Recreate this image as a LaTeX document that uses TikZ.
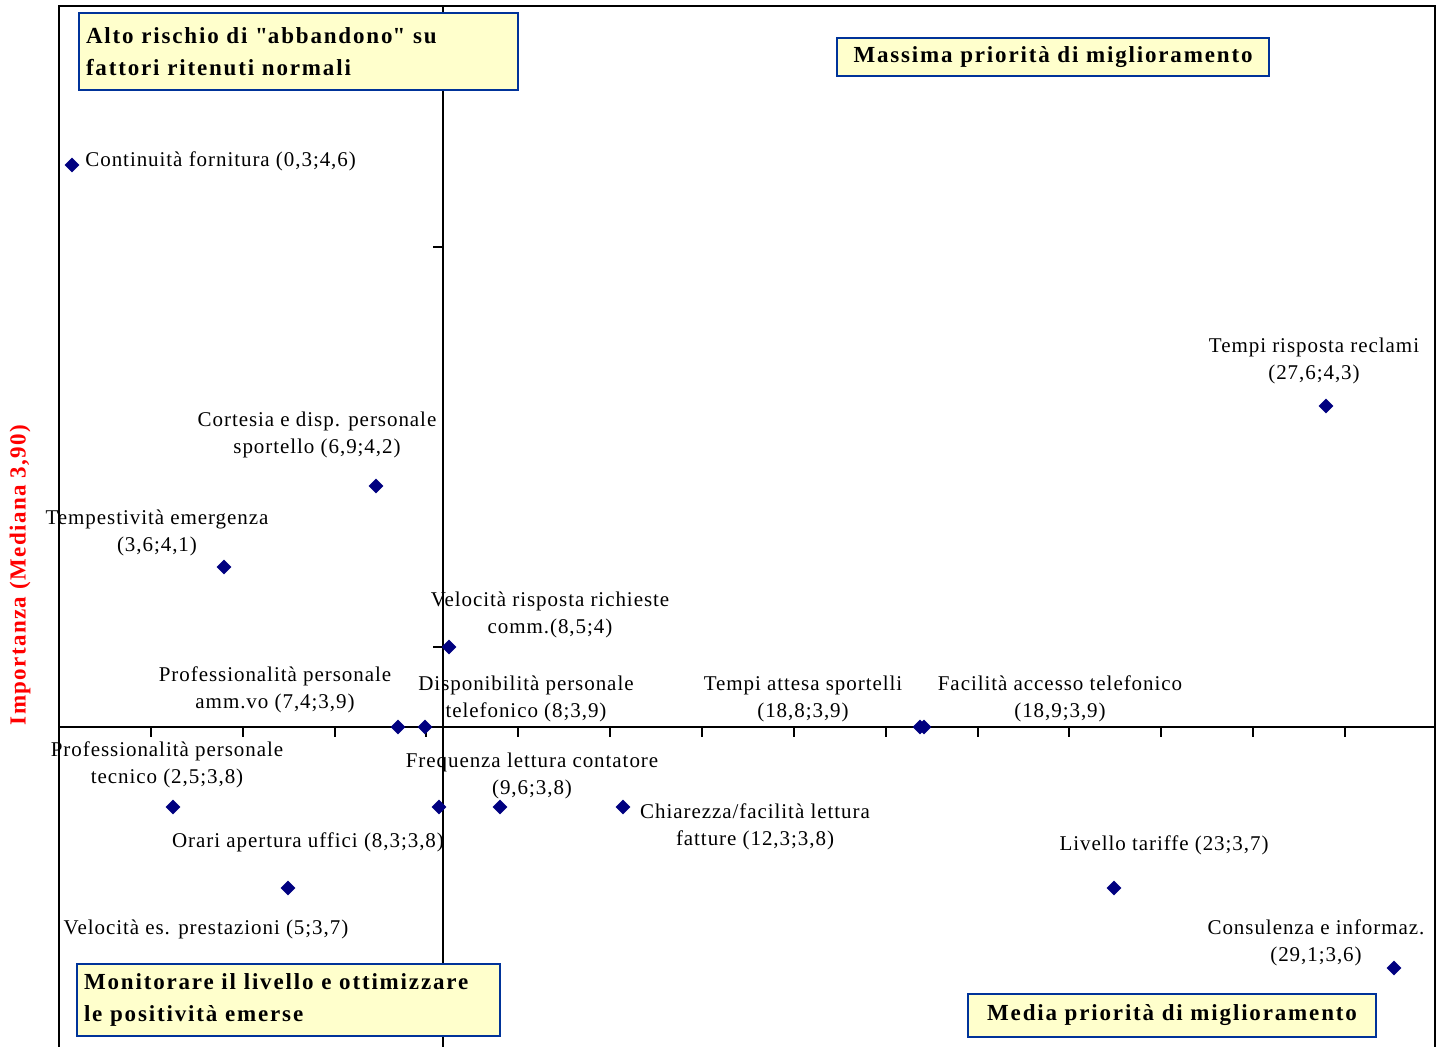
\documentclass[tikz,border=0pt]{standalone}
\usepackage{fontspec}
\setmainfont{Liberation Serif}
\newfontfamily\lblfont[LetterSpace=4.5]{Liberation Serif}
\newfontfamily\qboxfont[LetterSpace=8]{Liberation Serif}
\newfontfamily\ylabfont[LetterSpace=6]{Liberation Serif}
\usetikzlibrary{shapes.geometric}
\definecolor{navy}{RGB}{0,0,128}
\definecolor{boxfill}{RGB}{255,255,204}
\definecolor{boxline}{RGB}{0,51,153}
\begin{document}
\begin{tikzpicture}[x=0.5pt,y=-0.5pt,
  pt/.style={diamond,fill=navy,inner sep=0pt,minimum width=7.5pt,minimum height=7.5pt},
  lbl/.style={font=\lblfont\fontsize{10.5}{13.5}\selectfont,align=center,inner sep=0pt},
  qbox/.style={draw=boxline,line width=1pt,fill=boxfill,font=\qboxfont\bfseries\fontsize{11.5}{16}\selectfont,inner sep=0pt,anchor=north west},
  axisline/.style={line width=1pt,black}]
\useasboundingbox (0,0) rectangle (1441,1047);
% frame
\draw[axisline] (59,1047) -- (59,6) -- (1435,6) -- (1435,1047);
% axes
\draw[axisline] (443,6) -- (443,1047);
\draw[axisline] (59,727) -- (1435,727);
\foreach \i in {2,4,...,28} \draw[axisline] ({59+45.93*\i},727) -- ++(0,10);
\foreach \y in {247,647} \draw[axisline] (443,\y) -- ++(-10,0);
% y label
\node[rotate=90,font=\ylabfont\bfseries\fontsize{11.5}{13}\selectfont,text=red,inner sep=0pt] (ylab) at (20,575) {Importanza (Mediana 3,90)};
% quadrant boxes
\node[qbox,minimum width=219.5pt,minimum height=38.5pt,text width=212.5pt,align=left,inner xsep=3.5pt] (q1) at (78,12) {Alto rischio di \textquotedbl abbandono\textquotedbl\ su\\fattori ritenuti normali};
\node[qbox,minimum width=216pt,minimum height=19pt,align=center] (q2) at (836,37) {Massima priorità di miglioramento};
\node[qbox,minimum width=211.5pt,minimum height=36pt,text width=204.5pt,align=left,inner xsep=3.5pt] (q3) at (76,963) {Monitorare il livello e ottimizzare\\le positività emerse};
\node[qbox,minimum width=204pt,minimum height=21.5pt,align=center] (q4) at (967,993) {Media priorità di miglioramento};
% points
\node[pt] (p1) at (72,165) {};
\node[pt] (p2) at (1326,406) {};
\node[pt] (p3) at (376,486) {};
\node[pt] (p4) at (224,567) {};
\node[pt] (p5) at (449,647) {};
\node[pt] (p6) at (398,727) {};
\node[pt] (p7) at (425,727) {};
\node[pt] (p8) at (920,727) {};
\node[pt] (p9) at (924,727) {};
\node[pt] (p10) at (173,807) {};
\node[pt] (p11) at (439,807) {};
\node[pt] (p12) at (500,807) {};
\node[pt] (p13) at (623,807) {};
\node[pt] (p14) at (288,888) {};
\node[pt] (p15) at (1114,888) {};
\node[pt] (p16) at (1394,968) {};
% labels
\node[lbl,anchor=west] (l1) at (85,161) {Continuità fornitura (0,3;4,6)};
\node[lbl] (l2) at (1314,360.5) {Tempi risposta reclami\\(27,6;4,3)};
\node[lbl] (l3) at (317,435) {Cortesia e disp. personale\\sportello (6,9;4,2)};
\node[lbl] (l4) at (157,533) {Tempestività emergenza\\(3,6;4,1)};
\node[lbl] (l5) at (550,614.5) {Velocità risposta richieste\\comm.(8,5;4)};
\node[lbl] (l6) at (275,690) {Professionalità personale\\amm.vo (7,4;3,9)};
\node[lbl] (l7) at (526,699) {Disponibilità personale\\telefonico (8;3,9)};
\node[lbl] (l8) at (803,699) {Tempi attesa sportelli\\(18,8;3,9)};
\node[lbl] (l9) at (1060,699) {Facilità accesso telefonico\\(18,9;3,9)};
\node[lbl] (l10) at (167,764.5) {Professionalità personale\\tecnico (2,5;3,8)};
\node[lbl] (l11) at (532,776) {Frequenza lettura contatore\\(9,6;3,8)};
\node[lbl] (l12) at (755,826.5) {Chiarezza/facilità lettura\\fatture (12,3;3,8)};
\node[lbl] (l13) at (308,842) {Orari apertura uffici (8,3;3,8)};
\node[lbl] (l14) at (1164,845) {Livello tariffe (23;3,7)};
\node[lbl] (l15) at (206,929) {Velocità es. prestazioni (5;3,7)};
\node[lbl] (l16) at (1316,942.5) {Consulenza e informaz.\\(29,1;3,6)};
\end{tikzpicture}
\end{document}
